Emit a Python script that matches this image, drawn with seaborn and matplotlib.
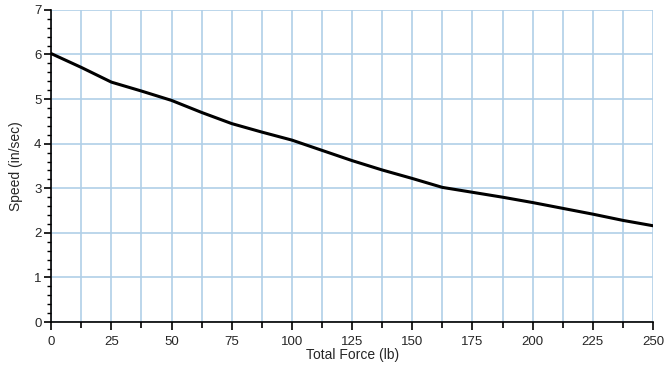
import matplotlib
matplotlib.use("Agg")
import matplotlib.pyplot as plt
import seaborn as sns
import pandas as pd
from matplotlib.ticker import MultipleLocator

force = [0, 12.5, 25, 37.5, 50, 62.5, 75, 87.5, 100, 112.5, 125, 137.5, 150,
         162.5, 175, 187.5, 200, 212.5, 225, 237.5, 250]
speed = [6.02, 5.71, 5.38, 5.18, 4.97, 4.70, 4.45, 4.26, 4.08, 3.85, 3.62, 3.41,
         3.22, 3.02, 2.91, 2.80, 2.68, 2.55, 2.42, 2.28, 2.16]
x_ticks = [0, 25, 50, 75, 100, 125, 150, 175, 200, 225, 250]
y_ticks = [0, 1, 2, 3, 4, 5, 6, 7]

df = pd.DataFrame({"Total Force (lb)": force, "Speed (in/sec)": speed})

sns.set_theme(style="white")
plt.rcParams['font.family'] = ['Liberation Sans', 'DejaVu Sans']

fig, ax = plt.subplots(figsize=(6.65, 3.66), dpi=100)
fig.subplots_adjust(left=0.077, right=0.982, top=0.973, bottom=0.12)

ax.set_xlim(0, 250)
ax.set_ylim(0, 7)
ax.set_xticks(x_ticks)
ax.set_yticks(y_ticks)
ax.xaxis.set_minor_locator(MultipleLocator(12.5))
ax.yaxis.set_minor_locator(MultipleLocator(0.2))

ax.grid(True, which='major', axis='y', color='#b0cfe8', linewidth=1.2)
ax.grid(True, which='both', axis='x', color='#b0cfe8', linewidth=1.2)
ax.set_axisbelow(True)

sns.lineplot(data=df, x="Total Force (lb)", y="Speed (in/sec)", ax=ax,
             color='black', linewidth=2.2)

for side in ['top', 'right']:
    ax.spines[side].set_visible(False)
for side in ['left', 'bottom']:
    ax.spines[side].set_color('black')
    ax.spines[side].set_linewidth(1.2)

ax.tick_params(axis='x', which='major', direction='out', length=6, width=1.2,
               color='black', labelsize=9.5, pad=4, bottom=True)
ax.tick_params(axis='x', which='minor', direction='out', length=4, width=1.2,
               color='black', bottom=True)
ax.tick_params(axis='y', which='major', direction='out', length=5, width=1.2,
               color='black', labelsize=9.5, pad=2, left=True)
ax.tick_params(axis='y', which='minor', direction='out', length=3, width=1.0,
               color='black', left=True)

ax.set_xlabel("Total Force (lb)", fontsize=10, labelpad=0)
ax.set_ylabel("Speed (in/sec)", fontsize=10, labelpad=8)

fig.savefig("out.png", dpi=100)
